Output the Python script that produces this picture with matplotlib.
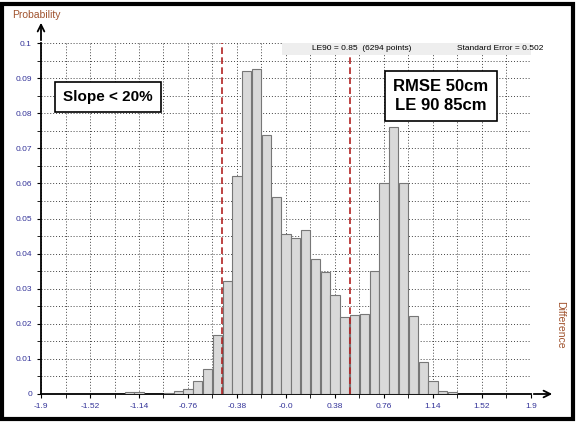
import matplotlib
matplotlib.use("Agg")
import matplotlib.pyplot as plt
import numpy as np
from matplotlib.patches import Rectangle

bin_centers = [-1.216, -1.14, -0.912, -0.836, -0.76, -0.684, -0.608, -0.532, -0.456, -0.38,
               -0.304, -0.228, -0.152, -0.076, 0.0, 0.076, 0.152, 0.228, 0.304, 0.38,
               0.456, 0.532, 0.608, 0.684, 0.76, 0.836, 0.912, 0.988, 1.064, 1.14, 1.216, 1.292]
probabilities = [0.0005, 0.0005, 0.0003, 0.0008, 0.0015, 0.0037, 0.0071, 0.0168, 0.0322, 0.0622,
                 0.0921, 0.0925, 0.0738, 0.0562, 0.0455, 0.0445, 0.0467, 0.0385, 0.0347, 0.0282,
                 0.0218, 0.0224, 0.0227, 0.0350, 0.0600, 0.0760, 0.0600, 0.0222, 0.0091, 0.0037, 0.0008, 0.0005]
xtick_vals = [-1.9, -1.52, -1.14, -0.76, -0.38, 0.0, 0.38, 0.76, 1.14, 1.52, 1.9]
xtick_labels = ["-1.9", "-1.52", "-1.14", "-0.76", "-0.38", "-0.0", "0.38", "0.76", "1.14", "1.52", "1.9"]
ytick_vals = [0.01 * i for i in range(11)]
ytick_labels = ["0"] + [f"{v:g}" for v in ytick_vals[1:]]
le_lines = [-0.5, 0.5]

plt.rcParams['font.family'] = ['Liberation Sans', 'DejaVu Sans']

W, H = 579, 422
fig = plt.figure(figsize=(W / 100, H / 100), dpi=100)
fig.patch.set_facecolor("white")
fig.add_artist(Rectangle((0.004, 0.006), 0.985, 0.985, transform=fig.transFigure,
                         fill=False, edgecolor="black", linewidth=3))

L, R, B, T = 41 / W, 531 / W, 1 - 394 / H, 1 - 43 / H
ax = fig.add_axes([L, B, R - L, T - B])
ax.set_xlim(-1.9, 1.9)
ax.set_ylim(0, 0.1)

ax.set_xticks(np.arange(-1.9, 1.901, 0.19), minor=True)
ax.set_yticks(np.arange(0, 0.1001, 0.005), minor=True)
ax.grid(True, which="both", linestyle=(0, (1, 2)), color="#444444", linewidth=0.7)
ax.set_axisbelow(True)

ax.bar(bin_centers, probabilities, width=0.072, color="#d9d9d9", edgecolor="#777777", linewidth=0.8, zorder=3)
for x in le_lines:
    ax.axvline(x, color="#b22222", linestyle=(0, (4, 2)), linewidth=1.2, zorder=4)

ax.set_xticks(xtick_vals)
ax.set_xticklabels(xtick_labels, fontsize=6, color="#333399")
ax.set_yticks(ytick_vals)
ax.set_yticklabels(ytick_labels, fontsize=6, color="#333399")
ax.tick_params(which="both", length=3, direction="out")
for s in ["top", "right"]:
    ax.spines[s].set_visible(False)
ax.spines["left"].set_linewidth(1.3)
ax.spines["bottom"].set_linewidth(1.3)

fig.add_artist(matplotlib.patches.FancyArrowPatch((L, T), (L, 1 - 20 / H), transform=fig.transFigure,
               arrowstyle="->", mutation_scale=12, linewidth=1.3, color="black"))
fig.add_artist(matplotlib.patches.FancyArrowPatch((R, B), (555 / W, B), transform=fig.transFigure,
               arrowstyle="->", mutation_scale=12, linewidth=1.3, color="black"))
fig.text(12 / W, 1 - 15 / H, "Probability", fontsize=7.5, color="#a0522d", va="center")
fig.text(560 / W, 1 - 325 / H, "Difference", fontsize=7.5, color="#a0522d", rotation=-90, va="center", ha="center")

ax.add_patch(Rectangle((282 / W, 1 - 55 / H), (R - 282 / W), 12 / H, transform=fig.transFigure,
                       facecolor="#eeeeee", edgecolor="none", zorder=5, clip_on=False))
fig.text(312 / W, 1 - 49 / H, "LE90 = 0.85  (6294 points)", fontsize=6, va="center", zorder=6)
fig.text(500 / W, 1 - 49 / H, "Standard Error = 0.502", fontsize=6, va="center", ha="center", zorder=6)

fig.text(108 / W, 1 - 97 / H, "Slope < 20%", fontsize=11, fontweight="bold", ha="center", va="center",
         bbox=dict(boxstyle="square,pad=0.55", facecolor="white", edgecolor="black", linewidth=1.2), zorder=7)
fig.text(441 / W, 1 - 96 / H, "RMSE 50cm\nLE 90 85cm", fontsize=12, fontweight="bold", ha="center", va="center",
         linespacing=1.3,
         bbox=dict(boxstyle="square,pad=0.5", facecolor="white", edgecolor="black", linewidth=1.2), zorder=7)

fig.savefig("out.png", dpi=100)
